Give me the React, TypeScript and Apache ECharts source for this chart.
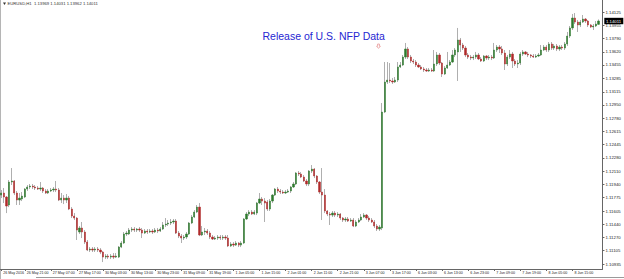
import React, { useEffect, useRef } from 'react';
import * as echarts from 'echarts';

const HEADER = 'EURUSD,H1  1.13969 1.14031 1.13962 1.14011';
const TITLE = 'Release of U.S. NFP Data';
const FIRST_LABEL = '26 May 2016';
const START_TIME = Date.UTC(2016, 4, 26, 12);
const CURRENT_PRICE = 1.14011;
const Y_MIN = 1.10872;
const Y_MAX = 1.14277;
const Y_TICKS = [1.14125, 1.13955, 1.1379, 1.1362, 1.13455, 1.13285, 1.13115, 1.1295, 1.1278, 1.12615, 1.12445, 1.1228, 1.1211, 1.1194, 1.11775, 1.11605, 1.1144, 1.1127, 1.11105, 1.10935];

// [open, close, low, high]
const OHLC: number[][] = [
  [1.11808, 1.11834, 1.1177, 1.11872], [1.11834, 1.11783, 1.11707, 1.11897], [1.11783, 1.11669, 1.1158, 1.11796], [1.11682, 1.11973, 1.11656, 1.11998],
  [1.11973, 1.11986, 1.11935, 1.1215], [1.11986, 1.11834, 1.11808, 1.11998], [1.11834, 1.11745, 1.11682, 1.11859], [1.11745, 1.1177, 1.11682, 1.11834],
  [1.11758, 1.11796, 1.11732, 1.11846], [1.11783, 1.11884, 1.1177, 1.11897], [1.11884, 1.1191, 1.11859, 1.11935], [1.1191, 1.11922, 1.11884, 1.11948],
  [1.11922, 1.1191, 1.11884, 1.11948], [1.1191, 1.11897, 1.11872, 1.11935], [1.11897, 1.11884, 1.11872, 1.11922], [1.11884, 1.11897, 1.11859, 1.11973],
  [1.11897, 1.11859, 1.11834, 1.1191], [1.11859, 1.11834, 1.11821, 1.11884], [1.11834, 1.11859, 1.11821, 1.11884], [1.11859, 1.11872, 1.11846, 1.11897],
  [1.11872, 1.11884, 1.11846, 1.1191], [1.11884, 1.11872, 1.11846, 1.11986], [1.11872, 1.11745, 1.11732, 1.11897], [1.11745, 1.1177, 1.11707, 1.11834],
  [1.1177, 1.11745, 1.11694, 1.11808], [1.11745, 1.1177, 1.11707, 1.11821], [1.1177, 1.11631, 1.11618, 1.11796], [1.11631, 1.11542, 1.11517, 1.11656],
  [1.11542, 1.11517, 1.11492, 1.1158], [1.11517, 1.11365, 1.11239, 1.1153], [1.1134, 1.11391, 1.11315, 1.11416], [1.11391, 1.1134, 1.11264, 1.11467],
  [1.1134, 1.11213, 1.11188, 1.11365], [1.11213, 1.11112, 1.11099, 1.11239], [1.11112, 1.11125, 1.11087, 1.1115], [1.11125, 1.11112, 1.11087, 1.1115],
  [1.11112, 1.11125, 1.11087, 1.1115], [1.11125, 1.11112, 1.11087, 1.1115], [1.11112, 1.11087, 1.11061, 1.11137], [1.11087, 1.11023, 1.1096, 1.11099],
  [1.11023, 1.11036, 1.10998, 1.11061], [1.11036, 1.11023, 1.10998, 1.11061], [1.11023, 1.11036, 1.10998, 1.11061], [1.11036, 1.11023, 1.10998, 1.11074],
  [1.11023, 1.11036, 1.11011, 1.11074], [1.11023, 1.1115, 1.11011, 1.11163], [1.1115, 1.11201, 1.11137, 1.11226], [1.11201, 1.11315, 1.11188, 1.1134],
  [1.11315, 1.11327, 1.11289, 1.11353], [1.11315, 1.11365, 1.11302, 1.11391], [1.11365, 1.11378, 1.1134, 1.11403], [1.11378, 1.11365, 1.1134, 1.11403],
  [1.11365, 1.11378, 1.1134, 1.11391], [1.11378, 1.11365, 1.1134, 1.11403], [1.11365, 1.11327, 1.11264, 1.11391], [1.11327, 1.11353, 1.11315, 1.11378],
  [1.11353, 1.1134, 1.11315, 1.11378], [1.1134, 1.11353, 1.11327, 1.11378], [1.11353, 1.1134, 1.11315, 1.11378], [1.1134, 1.11365, 1.11327, 1.11391],
  [1.11365, 1.11353, 1.11327, 1.11391], [1.11353, 1.11378, 1.1134, 1.11403], [1.11378, 1.11429, 1.11365, 1.11467], [1.11429, 1.11441, 1.11403, 1.11517],
  [1.11441, 1.11454, 1.11416, 1.11492], [1.11454, 1.11467, 1.11429, 1.11505], [1.11467, 1.11479, 1.11441, 1.11505], [1.11479, 1.11327, 1.11315, 1.11505],
  [1.11327, 1.11289, 1.11264, 1.11353], [1.11289, 1.11264, 1.11201, 1.11315], [1.11264, 1.11277, 1.11239, 1.11302], [1.11277, 1.11315, 1.11251, 1.1134],
  [1.11315, 1.11454, 1.11302, 1.11467], [1.11454, 1.1153, 1.11441, 1.11555], [1.1153, 1.11593, 1.11517, 1.11618], [1.11593, 1.11656, 1.1158, 1.11682],
  [1.11656, 1.11302, 1.11289, 1.11707], [1.11302, 1.1134, 1.11289, 1.11416], [1.1134, 1.11353, 1.11302, 1.11391], [1.11353, 1.11327, 1.11302, 1.11378],
  [1.11327, 1.11277, 1.11251, 1.11353], [1.11277, 1.11251, 1.11239, 1.11302], [1.11251, 1.11264, 1.11239, 1.11289], [1.11264, 1.11277, 1.11239, 1.11302],
  [1.11277, 1.11264, 1.11239, 1.11302], [1.11264, 1.11277, 1.11239, 1.11302], [1.11277, 1.11264, 1.11239, 1.11302], [1.11264, 1.11163, 1.1115, 1.11302],
  [1.11163, 1.11188, 1.1115, 1.11213], [1.11188, 1.11175, 1.1115, 1.11213], [1.11175, 1.11201, 1.11163, 1.11226], [1.11201, 1.11175, 1.1115, 1.11213],
  [1.11175, 1.11201, 1.1115, 1.11226], [1.11201, 1.11505, 1.11188, 1.11517], [1.11505, 1.11568, 1.11492, 1.11593], [1.11568, 1.11593, 1.11542, 1.11618],
  [1.11593, 1.11568, 1.11555, 1.11618], [1.11568, 1.11593, 1.11555, 1.11618], [1.1158, 1.11707, 1.11555, 1.1172], [1.11707, 1.11758, 1.11694, 1.11834],
  [1.11758, 1.11732, 1.11682, 1.11783], [1.11732, 1.11707, 1.11467, 1.1177], [1.1172, 1.11631, 1.11606, 1.11745], [1.11631, 1.11732, 1.11606, 1.11758],
  [1.11732, 1.11808, 1.11707, 1.11821], [1.11808, 1.11884, 1.11796, 1.11897], [1.11884, 1.11859, 1.11834, 1.1191], [1.11859, 1.11846, 1.11821, 1.11884],
  [1.11846, 1.11834, 1.11821, 1.11872], [1.11834, 1.11846, 1.11821, 1.11872], [1.11846, 1.11859, 1.11834, 1.11884], [1.11859, 1.1191, 1.11834, 1.11922],
  [1.1191, 1.11948, 1.11897, 1.11973], [1.11948, 1.12087, 1.11935, 1.12099], [1.12087, 1.12074, 1.12049, 1.12112], [1.12074, 1.12036, 1.12023, 1.12099],
  [1.12036, 1.11986, 1.11973, 1.12061], [1.11986, 1.11948, 1.11922, 1.12011], [1.11948, 1.12112, 1.11922, 1.12125], [1.12112, 1.12137, 1.12087, 1.12188],
  [1.12137, 1.12049, 1.12023, 1.1215], [1.12049, 1.11973, 1.11948, 1.12061], [1.11973, 1.11846, 1.11821, 1.11986], [1.11846, 1.11808, 1.11492, 1.1215],
  [1.11808, 1.11606, 1.1158, 1.11884], [1.11606, 1.11568, 1.11542, 1.11618], [1.11568, 1.11555, 1.11429, 1.11593], [1.11555, 1.1158, 1.1153, 1.11606],
  [1.1158, 1.11555, 1.1153, 1.11606], [1.11555, 1.11568, 1.1153, 1.11593], [1.11568, 1.11517, 1.11492, 1.1158], [1.11517, 1.11492, 1.11467, 1.1153],
  [1.11492, 1.11505, 1.11467, 1.1153], [1.11505, 1.11479, 1.11467, 1.1153], [1.11479, 1.11492, 1.11467, 1.11517], [1.11492, 1.11416, 1.11403, 1.11517],
  [1.11416, 1.11467, 1.11403, 1.11492], [1.11467, 1.11492, 1.11454, 1.11517], [1.11492, 1.1153, 1.11479, 1.11568], [1.1153, 1.11555, 1.11517, 1.1158],
  [1.11555, 1.11517, 1.11492, 1.11568], [1.11517, 1.11492, 1.11467, 1.11542], [1.11492, 1.11467, 1.11454, 1.11517], [1.11467, 1.11416, 1.11391, 1.11492],
  [1.11416, 1.11378, 1.11353, 1.11441], [1.11378, 1.11403, 1.11353, 1.11429], [1.11391, 1.12859, 1.11365, 1.12973], [1.12859, 1.13239, 1.12846, 1.13492],
  [1.13239, 1.13264, 1.13214, 1.13492], [1.13264, 1.13252, 1.13226, 1.13479], [1.13252, 1.13239, 1.13214, 1.1329], [1.13239, 1.13264, 1.13226, 1.13302],
  [1.13264, 1.13429, 1.13239, 1.13492], [1.13429, 1.13454, 1.13416, 1.13492], [1.13454, 1.13555, 1.13441, 1.13581], [1.13555, 1.13657, 1.1353, 1.13733],
  [1.13657, 1.13555, 1.1353, 1.13682], [1.13555, 1.13505, 1.13479, 1.13581], [1.13505, 1.13492, 1.13467, 1.1353], [1.13492, 1.13454, 1.13429, 1.13517],
  [1.13454, 1.13429, 1.13416, 1.13479], [1.13429, 1.13404, 1.13391, 1.13454], [1.13404, 1.13391, 1.13366, 1.13429], [1.13391, 1.13378, 1.13366, 1.13416],
  [1.13378, 1.13391, 1.13366, 1.13416], [1.13391, 1.13378, 1.13366, 1.13416], [1.13378, 1.13467, 1.13366, 1.13644], [1.13467, 1.13581, 1.13441, 1.13619],
  [1.13581, 1.13479, 1.13454, 1.13606], [1.13479, 1.1334, 1.13302, 1.13492], [1.1334, 1.13416, 1.13328, 1.13441], [1.13416, 1.13454, 1.13404, 1.13619],
  [1.13454, 1.13492, 1.13441, 1.13517], [1.13492, 1.13581, 1.13479, 1.13644], [1.13581, 1.13644, 1.13555, 1.13669], [1.13619, 1.13771, 1.13252, 1.13923],
  [1.13771, 1.13707, 1.13619, 1.13796], [1.13707, 1.13669, 1.13644, 1.13733], [1.13669, 1.13581, 1.13555, 1.13695], [1.13581, 1.13555, 1.1353, 1.13606],
  [1.13555, 1.13543, 1.13517, 1.13581], [1.13543, 1.13555, 1.13517, 1.13581], [1.13555, 1.13581, 1.1353, 1.13619], [1.13581, 1.1353, 1.13517, 1.13606],
  [1.1353, 1.13505, 1.13492, 1.13555], [1.13505, 1.13568, 1.13492, 1.13581], [1.13568, 1.13543, 1.13517, 1.13581], [1.13543, 1.13555, 1.13517, 1.13581],
  [1.13555, 1.13543, 1.13517, 1.13581], [1.13543, 1.13644, 1.1353, 1.13733], [1.13644, 1.13682, 1.13619, 1.13707], [1.13682, 1.13657, 1.13606, 1.13707],
  [1.13657, 1.13606, 1.13581, 1.13695], [1.13606, 1.13467, 1.13391, 1.13644], [1.13467, 1.13555, 1.13441, 1.13581], [1.13555, 1.13593, 1.1353, 1.13644],
  [1.13593, 1.13505, 1.13416, 1.13619], [1.13505, 1.13467, 1.13441, 1.1353], [1.13467, 1.13479, 1.13416, 1.13517], [1.13479, 1.13593, 1.13454, 1.13619],
  [1.13593, 1.13619, 1.13568, 1.13644], [1.13619, 1.13593, 1.13581, 1.13631], [1.13593, 1.13581, 1.13555, 1.13619], [1.13581, 1.13568, 1.13543, 1.13593],
  [1.13568, 1.13555, 1.13543, 1.13593], [1.13555, 1.13568, 1.13543, 1.13593], [1.13568, 1.13581, 1.13555, 1.13606], [1.13581, 1.13644, 1.13568, 1.13707],
  [1.13644, 1.13682, 1.13631, 1.13707], [1.13682, 1.13644, 1.13619, 1.13707], [1.13644, 1.1372, 1.13619, 1.13745], [1.1372, 1.13669, 1.13644, 1.13745],
  [1.13669, 1.13695, 1.13644, 1.1372], [1.13695, 1.13657, 1.13631, 1.1372], [1.13657, 1.13682, 1.13631, 1.13707], [1.13682, 1.13669, 1.13644, 1.13707],
  [1.13669, 1.1372, 1.13644, 1.13745], [1.1372, 1.13821, 1.13695, 1.13872], [1.13821, 1.13923, 1.13796, 1.13948], [1.13923, 1.14049, 1.13897, 1.141],
  [1.14049, 1.13998, 1.13973, 1.14112], [1.13998, 1.13961, 1.13872, 1.14024], [1.13961, 1.13998, 1.13935, 1.14024], [1.13998, 1.14036, 1.13986, 1.14087],
  [1.14036, 1.14011, 1.13986, 1.14049], [1.14011, 1.13961, 1.13935, 1.14024], [1.13961, 1.13935, 1.13923, 1.13973], [1.13935, 1.13948, 1.13897, 1.13973],
  [1.13948, 1.13973, 1.13935, 1.14011], [1.13969, 1.14011, 1.13962, 1.14031],
];

const MONTHS = ['Jan', 'Feb', 'Mar', 'Apr', 'May', 'Jun', 'Jul', 'Aug', 'Sep', 'Oct', 'Nov', 'Dec'];

function buildCategories(n: number): string[] {
  const out: string[] = [];
  let t = START_TIME;
  while (out.length < n) {
    const d = new Date(t);
    const wd = d.getUTCDay();
    if (wd !== 0 && wd !== 6) {
      const h = String(d.getUTCHours()).padStart(2, '0');
      out.push(`${d.getUTCDate()} ${MONTHS[d.getUTCMonth()]} ${h}:00`);
    }
    t += 3600000;
  }
  return out;
}

const GREEN = '#2e7a2e';
const RED = '#b02a2a';
const WICK = '#a6a6a6';
const FONT = '"Liberation Sans", Arial, sans-serif';

export default function App() {
  const ref = useRef<HTMLDivElement>(null);
  useEffect(() => {
    document.body.style.margin = '0';
    if (!ref.current) return;
    const chart = echarts.init(ref.current, undefined, { renderer: 'svg' });
    const categories = [...buildCategories(OHLC.length), ''];
    const lastTick = OHLC.length - 11;
    const showIdx = (i: number) => i === 0 || (i % 10 === 9 && i <= lastTick);
    const bodies = OHLC.map(([o, c]) => [o, c, Math.min(o, c), Math.max(o, c)]);
    chart.setOption({
      animation: false,
      backgroundColor: '#ffffff',
      grid: { left: 0, right: 21, top: 0, bottom: 10, containLabel: false },
      xAxis: {
        type: 'category',
        data: categories,
        boundaryGap: true,
        axisLine: { show: true, lineStyle: { color: '#666', width: 1 } },
        axisTick: { show: true, alignWithLabel: true, interval: (i: number) => showIdx(i), length: 2, lineStyle: { color: '#666' } },
        axisLabel: {
          show: true,
          interval: (i: number) => showIdx(i),
          formatter: (v: string, i: number) => (i === 0 ? FIRST_LABEL : v),
          align: 'left',
          padding: [0, 0, 0, 2],
          margin: 1.5,
          fontSize: 3.6,
          fontFamily: FONT,
          color: '#222',
        },
        splitLine: { show: false },
      },
      yAxis: {
        type: 'value',
        position: 'right',
        min: Y_MIN,
        max: Y_MAX,
        scale: true,
        axisLine: { show: true, lineStyle: { color: '#666', width: 1 } },
        axisTick: { show: true, length: 2, customValues: Y_TICKS, lineStyle: { color: '#666' } },
        axisLabel: {
          show: true,
          customValues: Y_TICKS,
          formatter: (v: number) => v.toFixed(5),
          margin: 3,
          fontSize: 4.3,
          fontFamily: FONT,
          color: '#222',
        },
        splitLine: { show: false },
      },
      series: [
        {
          type: 'candlestick',
          name: 'wick',
          data: OHLC,
          barWidth: 0.8,
          z: 1,
          itemStyle: { color: WICK, color0: WICK, borderColor: WICK, borderColor0: WICK, borderWidth: 0.9 },
        },
        {
          type: 'candlestick',
          name: 'body',
          data: bodies,
          barWidth: 1.7,
          z: 2,
          itemStyle: { color: GREEN, color0: RED, borderColor: GREEN, borderColor0: RED, borderWidth: 0.5 },
        },
      ],
      graphic: [
        { type: 'rect', shape: { x: 0, y: 0, width: 1, height: 279 }, style: { fill: '#b5b5b5' }, silent: true },
        { type: 'line', shape: { x1: 36, y1: 277.5, x2: 624, y2: 277.5 }, style: { stroke: '#9a9a9a', lineWidth: 1 }, silent: true },
        { type: 'polygon', shape: { points: [[3, 2.5], [6, 2.5], [4.5, 5]] }, style: { fill: '#333' }, silent: true },
        {
          type: 'text', x: 7.5, y: 1.8, silent: true,
          style: { text: HEADER, fontSize: 4.2, fontFamily: FONT, fill: '#333', verticalAlign: 'top', align: 'left' },
        },
        {
          type: 'text', x: 262.5, y: 30.5, silent: true,
          style: { text: TITLE, fontSize: 10.5, fontFamily: FONT, fill: '#2626d2', verticalAlign: 'top', align: 'left' },
        },
        {
          type: 'polygon', silent: true,
          shape: { points: [[377.6, 44], [379.4, 44], [379.4, 46.2], [380.4, 46.2], [378.5, 48.4], [376.6, 46.2], [377.6, 46.2]] },
          style: { fill: 'none', stroke: '#e07a7a', lineWidth: 0.6 },
        },
      ],
    });
    const pt = chart.convertToPixel({ gridIndex: 0 }, [OHLC.length - 1, CURRENT_PRICE]) as number[];
    const axisX = chart.getWidth() - 21;
    chart.setOption({
      graphic: [
        {
          id: 'priceTag', type: 'rect', silent: true,
          shape: { x: axisX + 1.3, y: pt[1] - 3.2, width: 19, height: 6.4 },
          style: { fill: '#000' },
        },
        {
          id: 'priceText', type: 'text', silent: true, x: axisX + 3, y: pt[1],
          style: { text: CURRENT_PRICE.toFixed(5), fontSize: 4.3, fontFamily: FONT, fill: '#fff', verticalAlign: 'middle', align: 'left' },
        },
      ],
    });
    return () => chart.dispose();
  }, []);
  return <div ref={ref} style={{ width: 624, height: 279 }} />;
}
